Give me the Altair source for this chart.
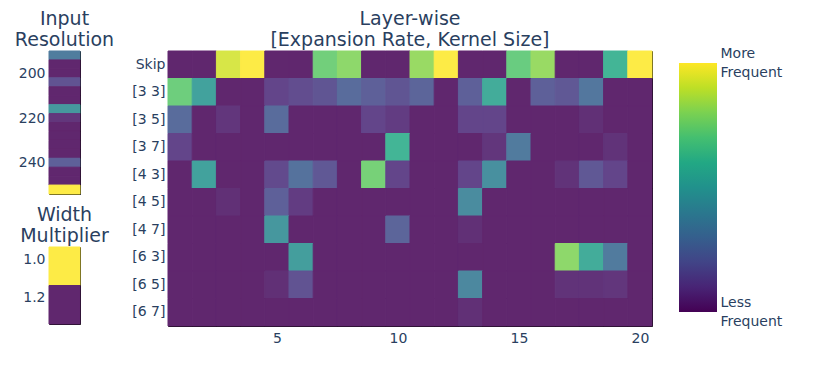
import altair as alt
import pandas as pd

# ---------------- data ----------------
layers = list(range(1, 21))
ops = ["Skip", "[3 3]", "[3 5]", "[3 7]", "[4 3]", "[4 5]", "[4 7]", "[6 3]", "[6 5]", "[6 7]"]

freq_skip = [0, 0, 0.93, 1.0, 0, 0, 0.74, 0.80, 0, 0, 0.82, 1.0, 0, 0, 0.72, 0.82, 0, 0, 0.60, 1.0]
freq_33 = [0.73, 0.50, 0, 0, 0.10, 0.13, 0.16, 0.25, 0.20, 0.16, 0.22, 0, 0.20, 0.55, 0, 0.20, 0.17, 0.30, 0, 0]
freq_35 = [0.25, 0, 0.05, 0, 0.25, 0, 0, 0, 0.10, 0.07, 0, 0, 0.10, 0.10, 0, 0, 0, 0.03, 0, 0]
freq_37 = [0.10, 0, 0, 0, 0, 0, 0, 0, 0, 0.60, 0, 0, 0, 0.05, 0.32, 0, 0, 0, 0.04, 0]
freq_43 = [0, 0.50, 0, 0, 0.12, 0.28, 0.17, 0, 0.75, 0.10, 0, 0, 0.10, 0.42, 0, 0, 0.04, 0.17, 0.10, 0]
freq_45 = [0, 0, 0.03, 0, 0.20, 0.07, 0, 0, 0, 0, 0, 0, 0.40, 0, 0, 0, 0, 0, 0, 0]
freq_47 = [0, 0, 0, 0, 0.45, 0, 0, 0, 0, 0.22, 0, 0, 0.03, 0, 0, 0, 0, 0, 0, 0]
freq_63 = [0, 0, 0, 0, 0, 0.48, 0, 0, 0, 0, 0, 0, 0, 0, 0, 0, 0.80, 0.55, 0.32, 0]
freq_65 = [0, 0, 0, 0, 0.03, 0.15, 0, 0, 0, 0, 0, 0, 0.38, 0, 0, 0, 0.04, 0.04, 0.05, 0]
freq_67 = [0, 0, 0, 0, 0, 0, 0, 0, 0, 0, 0, 0, 0.03, 0, 0, 0, 0, 0, 0, 0]
op_rows = [freq_skip, freq_33, freq_35, freq_37, freq_43, freq_45, freq_47, freq_63, freq_65, freq_67]

resolutions = list(range(192, 256, 4))
res_freq = [0.33, 0, 0, 0.15, 0, 0, 0.45, 0.05, 0, 0, 0, 0, 0.20, 0, 0, 1.0]
res_ticks = [200, 220, 240]

widths = [1.0, 1.2]
width_freq = [1.0, 0]

colorbar_ends = [0, 1]
colorbar_labels = ["Less Frequent", "More Frequent"]

# ---------------- style ----------------
FONT = "DejaVu Sans"
TXT = "#2a3f5f"
ALPHA = 0.85
VIRIDIS = ["#440154", "#482475", "#414487", "#355f8d", "#2a788e", "#21918c",
           "#22a884", "#44bf70", "#7ad151", "#bddf26", "#fde725"]


def blend(hexcol, a=ALPHA):
    h = hexcol.lstrip("#")
    rgb = [int(h[i:i + 2], 16) for i in (0, 2, 4)]
    return "#" + "".join(f"{round(c * a + 255 * (1 - a)):02x}" for c in rgb)


CELL_RANGE = [blend(c) for c in VIRIDIS]
STOPS = [i / 10 for i in range(11)]
cell_scale = alt.Scale(domain=STOPS, range=CELL_RANGE, interpolate="rgb")

main_df = pd.DataFrame(
    [{"layer": l, "op": op, "freq": row[i]} for op, row in zip(ops, op_rows) for i, l in enumerate(layers)]
)
res_df = pd.DataFrame({"res": resolutions, "freq": res_freq, "k": "a"})
wid_df = pd.DataFrame({"w": widths, "freq": width_freq, "k": "a"})
cbar_df = pd.DataFrame({"lo": [colorbar_ends[0]], "hi": [colorbar_ends[1]]})


def ttl(lines, offset=1):
    return alt.TitleParams(
        text=lines, fontSize=19, font=FONT, fontWeight="normal", color=TXT,
        lineHeight=21, offset=offset, anchor="middle",
    )


axis_common = dict(domain=False, ticks=False, grid=False, labelColor=TXT,
                   labelFont=FONT, labelFontSize=14, title=None)

color_enc = alt.Color("freq:Q", scale=cell_scale, legend=None)
stroke_enc = alt.Stroke("freq:Q", scale=cell_scale, legend=None)
CELL_STROKE = 1.0

res_chart = (
    alt.Chart(res_df, title=ttl(["Input", "Resolution"]))
    .transform_calculate(y0="datum.res - 2", y1="datum.res + 2")
    .mark_rect(strokeWidth=CELL_STROKE)
    .encode(
        x=alt.X("k:N", axis=None, scale=alt.Scale(paddingInner=0, paddingOuter=0)),
        y=alt.Y("y0:Q", scale=alt.Scale(domain=[190, 254], reverse=True, nice=False, zero=False),
                axis=alt.Axis(values=res_ticks, labelPadding=4, labelOffset=0, **axis_common)),
        y2="y1:Q",
        color=color_enc,
        stroke=stroke_enc,
    )
    .properties(width=31, height=143)
)

wid_chart = (
    alt.Chart(wid_df, title=ttl(["Width", "Multiplier"]))
    .transform_calculate(y0="datum.w - 0.1", y1="datum.w + 0.1")
    .mark_rect(strokeWidth=CELL_STROKE)
    .encode(
        x=alt.X("k:N", axis=None, scale=alt.Scale(paddingInner=0, paddingOuter=0)),
        y=alt.Y("y0:Q", scale=alt.Scale(domain=[0.9, 1.3], reverse=True, nice=False, zero=False),
                axis=alt.Axis(values=widths, format=".1f", labelPadding=4, labelOffset=-7, **axis_common)),
        y2="y1:Q",
        color=color_enc,
        stroke=stroke_enc,
    )
    .properties(width=31, height=77)
)

main_chart = (
    alt.Chart(main_df, title=ttl(["Layer-wise", "[Expansion Rate, Kernel Size]"]))
    .transform_calculate(x0="datum.layer - 0.5", x1="datum.layer + 0.5")
    .mark_rect(strokeWidth=CELL_STROKE)
    .encode(
        x=alt.X("x0:Q", scale=alt.Scale(domain=[0.5, 20.5], nice=False, zero=False),
                axis=alt.Axis(values=[5, 10, 15, 20], labelPadding=5, **axis_common)),
        x2="x1:Q",
        y=alt.Y("op:N", sort=ops, scale=alt.Scale(paddingInner=0, paddingOuter=0),
                axis=alt.Axis(labelPadding=3, **axis_common)),
        color=color_enc,
        stroke=stroke_enc,
    )
    .properties(width=484, height=275)
)

# colour bar: same plot height as the heatmap; the gradient covers 0..1 of a
# slightly wider y-domain so that it sits 12px below the heatmap's top edge
label_expr = (
    f"datum.value >= 1 ? split('{colorbar_labels[1]}', ' ') : split('{colorbar_labels[0]}', ' ')"
)
cbar_chart = (
    alt.Chart(cbar_df)
    .mark_rect(
        fill=alt.Gradient(
            gradient="linear",
            stops=[alt.GradientStop(color=c, offset=o) for c, o in zip(VIRIDIS, STOPS)],
            x1=0, x2=0, y1=1, y2=0,
        )
    )
    .encode(
        y=alt.Y("lo:Q", scale=alt.Scale(domain=[-0.0562, 1.0482], nice=False, zero=False),
                axis=alt.Axis(orient="right", values=colorbar_ends, labelExpr=label_expr,
                              labelBaseline="middle", labelFlush=False, labelLineHeight=19,
                              labelOffset=-9.5, labelPadding=3, **axis_common)),
        y2="hi:Q",
    )
    .properties(width=38, height=275, view=alt.ViewBackground(stroke="transparent"))
)

left = alt.vconcat(res_chart, wid_chart, spacing=10)
right = alt.hconcat(main_chart, cbar_chart, spacing=25)
chart = (
    alt.hconcat(left, right, spacing=16)
    .resolve_scale(color="independent")
    .properties(padding={"left": 6, "top": 1, "right": 5, "bottom": 5})
    .configure_view(stroke="black", strokeWidth=1)
    .configure_title(font=FONT, color=TXT)
)

chart.save("out.html", embed_options={"renderer": "svg", "actions": False})
